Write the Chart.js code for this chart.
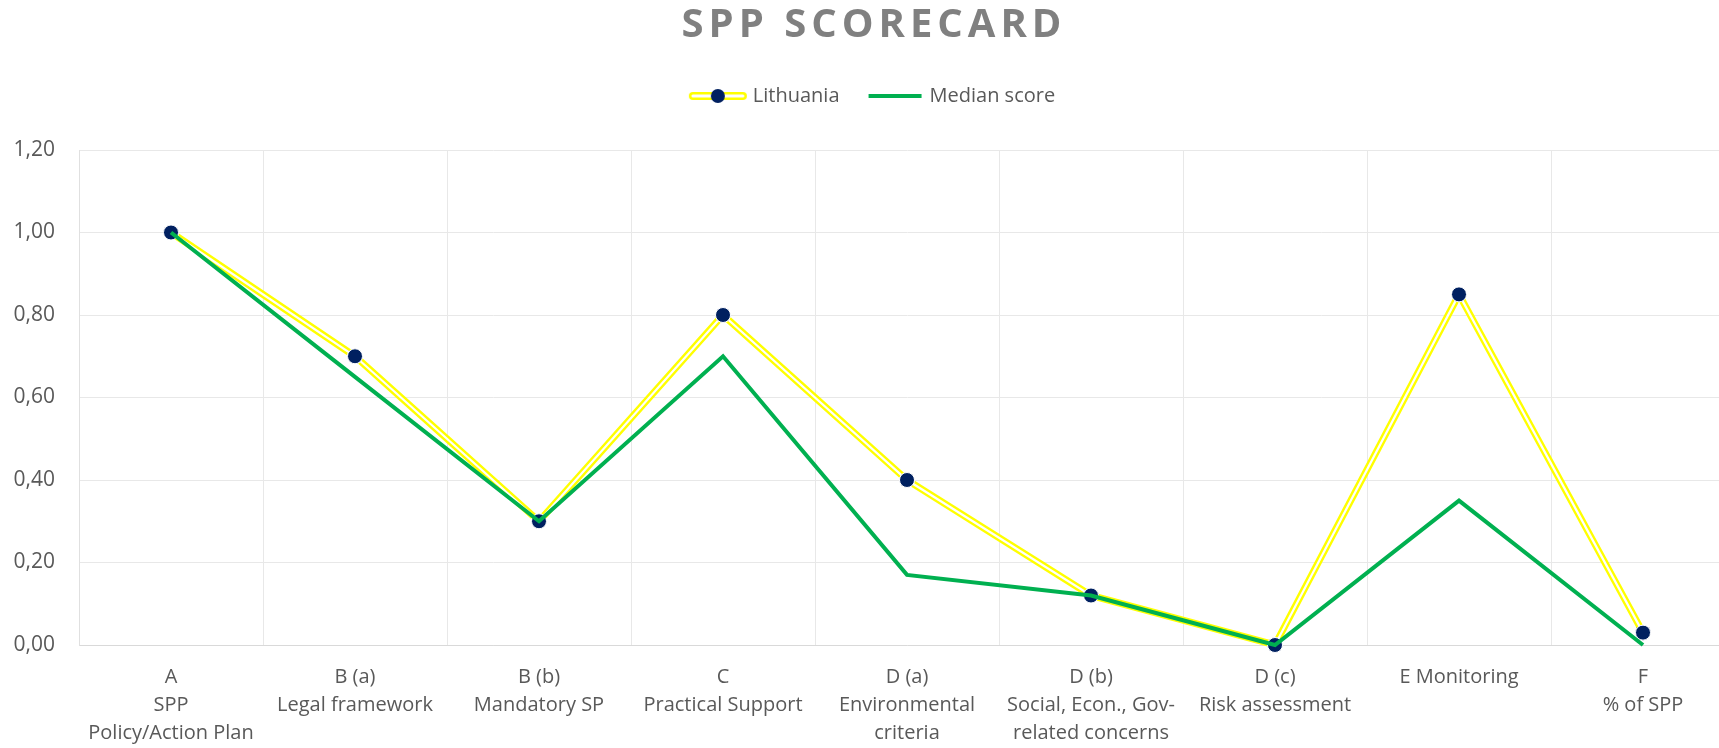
<!DOCTYPE html>
<html>
<head>
<meta charset="utf-8">
<script src="https://cdn.jsdelivr.net/npm/chart.js@4/dist/chart.umd.min.js"></script>
<style>
  html, body { margin: 0; padding: 0; background: #ffffff; overflow: hidden; }
  #wrap { width: 1760px; height: 748px; position: relative; }
</style>
</head>
<body>
<div id="wrap"><canvas id="c"></canvas></div>
<script>
// ---- data ----
const categories = [
  ['A', 'SPP', 'Policy/Action Plan'],
  ['B (a)', 'Legal framework'],
  ['B (b)', 'Mandatory SP'],
  ['C', 'Practical Support'],
  ['D (a)', 'Environmental', 'criteria'],
  ['D (b)', 'Social, Econ., Gov-', 'related concerns'],
  ['D (c)', 'Risk assessment'],
  ['E Monitoring'],
  ['F', '% of SPP']
];
const lithuania = [1.00, 0.70, 0.30, 0.80, 0.40, 0.12, 0.00, 0.85, 0.03];
const medianScore = [1.00, 0.65, 0.30, 0.70, 0.17, 0.12, 0.00, 0.35, 0.00];
const yTickLabels = ['0,00', '0,20', '0,40', '0,60', '0,80', '1,00', '1,20'];
const seriesNames = ['Lithuania', 'Median score'];

const YELLOW = '#ffff00';
const NAVY = '#002060';
const GREEN = '#00b050';
const TEXT = '#595959';
const GRID = '#e8e8e8';
const FONT = "'Open Sans', 'Noto Sans', sans-serif";

// legend symbols
function makeSymbol(kind) {
  const cv = document.createElement('canvas');
  cv.width = 60; cv.height = 18;
  const g = cv.getContext('2d');
  if (kind === 0) {
    g.strokeStyle = YELLOW; g.lineWidth = 8; g.lineCap = 'round';
    g.beginPath(); g.moveTo(5, 9); g.lineTo(55, 9); g.stroke();
    g.strokeStyle = '#ffffff'; g.lineWidth = 3;
    g.beginPath(); g.moveTo(5, 9); g.lineTo(55, 9); g.stroke();
    g.fillStyle = NAVY; g.beginPath(); g.arc(30, 9, 7, 0, Math.PI * 2); g.fill();
  } else {
    g.strokeStyle = GREEN; g.lineWidth = 4;
    g.beginPath(); g.moveTo(4, 9); g.lineTo(57, 9); g.stroke();
  }
  return cv;
}
const symbols = [makeSymbol(0), makeSymbol(1)];

const innerLine = {
  id: 'innerLine',
  afterDatasetDraw(chart, args) {
    if (args.index !== 0) return;
    const meta = args.meta;
    const ctx = chart.ctx;
    ctx.save();
    ctx.strokeStyle = '#ffffff';
    ctx.lineWidth = 2.2;
    ctx.lineJoin = 'miter';
    ctx.beginPath();
    meta.data.forEach((p, i) => { if (i === 0) ctx.moveTo(p.x, p.y); else ctx.lineTo(p.x, p.y); });
    ctx.stroke();
    ctx.restore();
    meta.data.forEach(p => p.draw(ctx, chart.chartArea));
  }
};

const titleSpacing = {
  id: 'titleSpacing',
  afterLayout(chart) {
    const tb = chart.titleBlock;
    if (tb && !tb._spaced) {
      const orig = tb.draw.bind(tb);
      tb.draw = function () {
        const ctx = chart.ctx;
        ctx.save();
        ctx.letterSpacing = '5px';
        orig();
        ctx.restore();
      };
      tb._spaced = true;
    }
  }
};

new Chart(document.getElementById('c'), {
  type: 'line',
  data: {
    labels: categories,
    datasets: [
      {
        label: seriesNames[0],
        data: lithuania,
        borderColor: YELLOW,
        borderWidth: 7,
        pointRadius: 7.5,
        pointHoverRadius: 7.5,
        pointBackgroundColor: NAVY,
        pointBorderColor: '#ffffff',
        pointBorderWidth: 1,
        tension: 0,
        order: 1,
        clip: false
      },
      {
        label: seriesNames[1],
        data: medianScore,
        borderColor: GREEN,
        borderWidth: 4,
        pointRadius: 0,
        pointHoverRadius: 0,
        tension: 0,
        order: 0,
        clip: false
      }
    ]
  },
  options: {
    responsive: true,
    maintainAspectRatio: false,
    animation: false,
    layout: { padding: { left: 13, right: 25, top: 0, bottom: 0 } },
    plugins: {
      tooltip: { enabled: false },
      title: {
        display: true,
        text: 'SPP SCORECARD',
        color: '#808080',
        font: { family: FONT, size: 40, weight: 'bold' },
        padding: { top: 2, bottom: 6 }
      },
      subtitle: {
        display: true,
        text: ' ',
        weight: 500,
        font: { size: 1, lineHeight: 1 },
        padding: { top: 0, bottom: 33 }
      },
      legend: {
        display: true,
        position: 'top',
        labels: {
          usePointStyle: true,
          pointStyleWidth: 50,
          padding: 30,
          color: TEXT,
          font: { family: FONT, size: 20 },
          generateLabels(chart) {
            return chart.data.datasets.map((ds, i) => ({
              text: ds.label,
              pointStyle: symbols[i],
              fillStyle: 'transparent',
              strokeStyle: 'transparent',
              lineWidth: 0,
              hidden: false,
              datasetIndex: i,
              fontColor: TEXT
            }));
          }
        }
      }
    },
    scales: {
      x: {
        offset: true,
        grid: { display: true, color: GRID, lineWidth: 1, offset: true, drawTicks: false },
        border: { display: true, color: '#d9d9d9' },
        ticks: {
          color: TEXT,
          font: { family: FONT, size: 20, lineHeight: 1.4 },
          padding: 18,
          maxRotation: 0,
          autoSkip: false
        },
        afterFit(scale) {
          scale.paddingLeft = 0;
          scale.paddingRight = 0;
          scale.height = 103;
        }
      },
      y: {
        min: 0,
        max: 1.2,
        grid: { color: GRID, lineWidth: 1, drawTicks: false },
        border: { display: true, color: '#e0e0e0' },
        ticks: {
          stepSize: 0.2,
          color: TEXT,
          font: { family: FONT, size: 21 },
          padding: 24,
          callback: (v, i) => yTickLabels[i]
        },
        afterFit(scale) {
          scale.width = 66;
        }
      }
    }
  },
  plugins: [innerLine, titleSpacing]
});
</script>
</body>
</html>
